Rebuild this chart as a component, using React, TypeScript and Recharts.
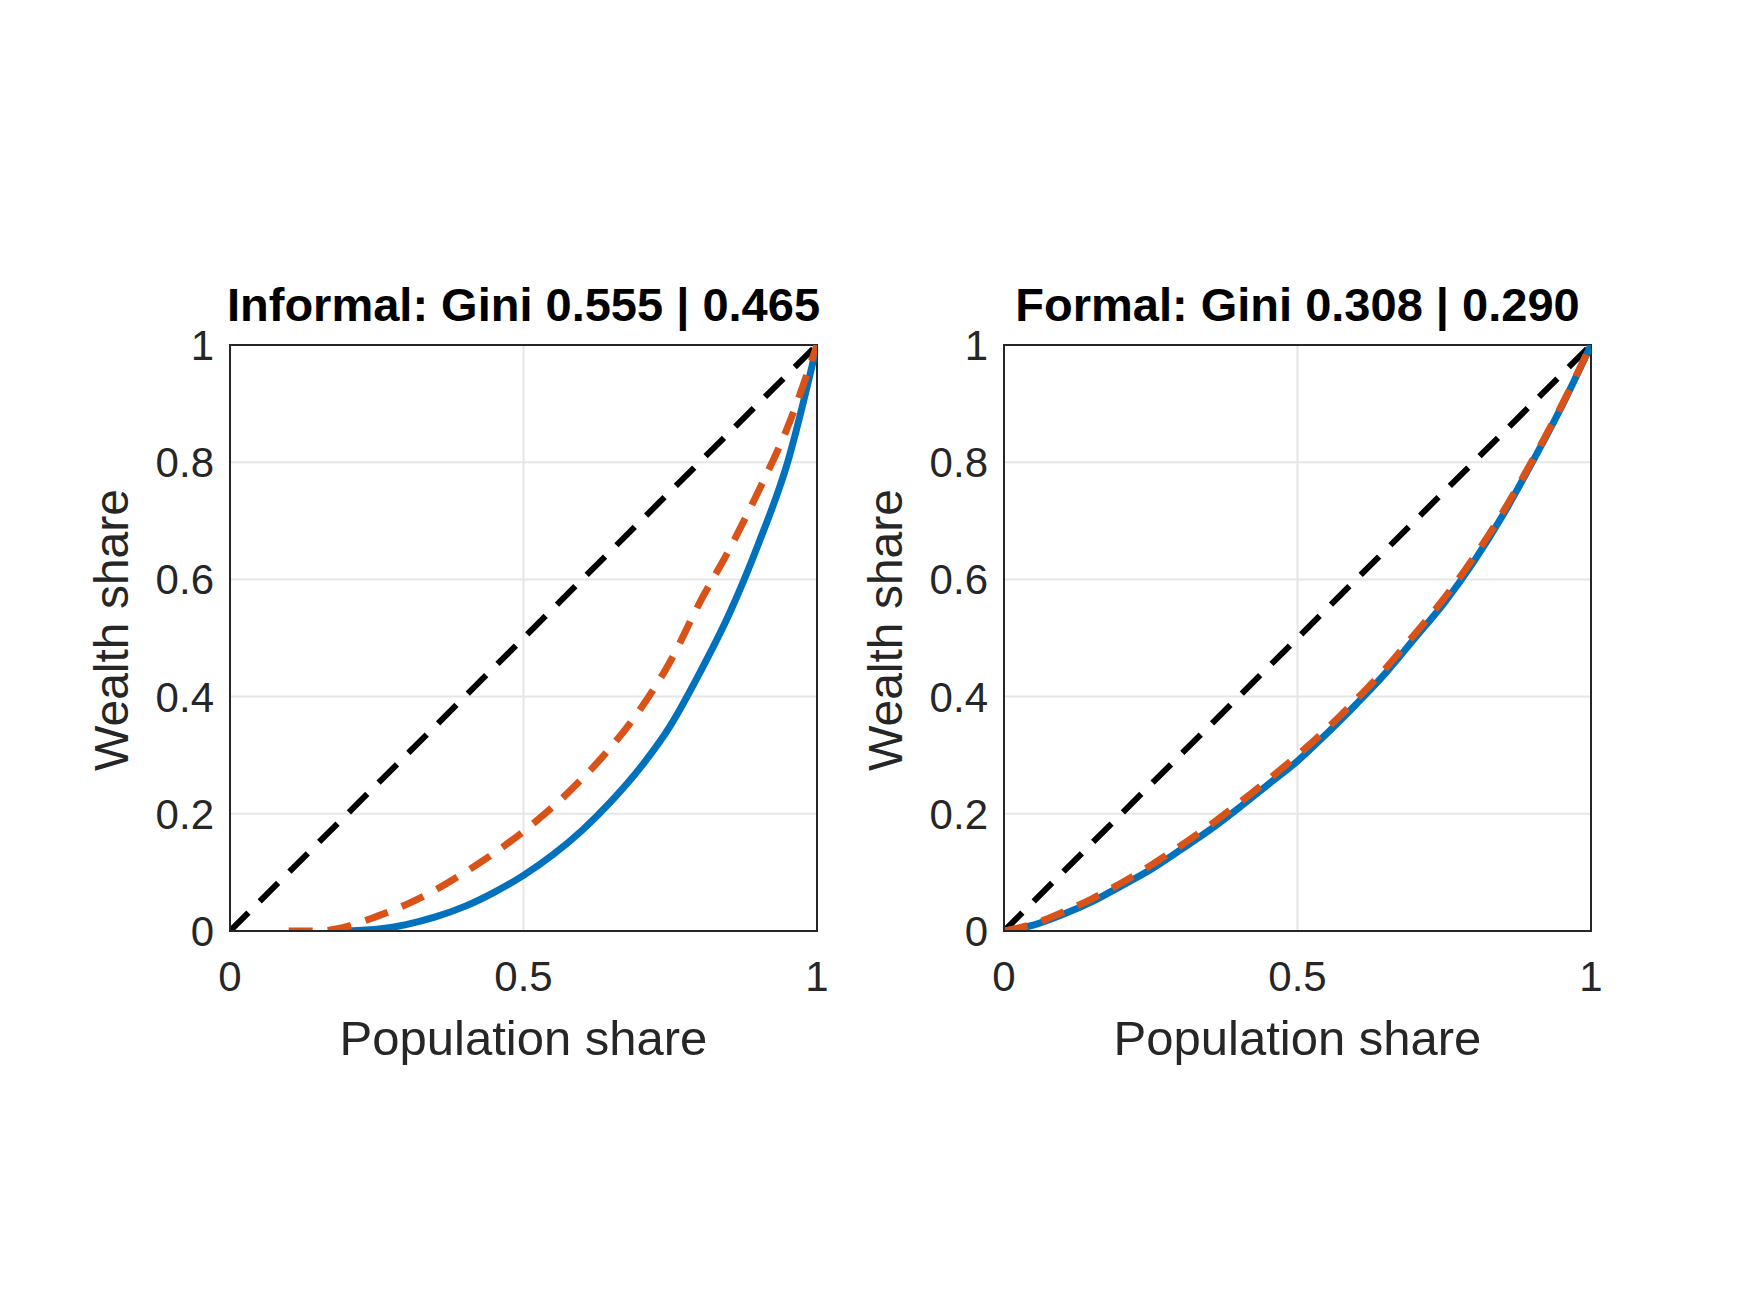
import { LineChart, Line, XAxis, YAxis, CartesianGrid, ReferenceArea } from "recharts";

const equality = [
  { x: 0, y: 0 },
  { x: 1, y: 1 },
];

const informalBlue = [
  { x: 0.19, y: 0 }, { x: 0.25, y: 0.003 }, { x: 0.3, y: 0.011 }, { x: 0.35, y: 0.024 },
  { x: 0.4, y: 0.042 }, { x: 0.45, y: 0.066 }, { x: 0.5, y: 0.095 }, { x: 0.55, y: 0.13 },
  { x: 0.6, y: 0.172 }, { x: 0.65, y: 0.222 }, { x: 0.7, y: 0.28 }, { x: 0.75, y: 0.35 },
  { x: 0.8, y: 0.44 }, { x: 0.85, y: 0.54 }, { x: 0.9, y: 0.66 }, { x: 0.95, y: 0.8 },
  { x: 1, y: 1 },
];

const informalOrange = [
  { x: 0.1, y: 0 }, { x: 0.15, y: 0 }, { x: 0.2, y: 0.008 }, { x: 0.25, y: 0.025 },
  { x: 0.3, y: 0.045 }, { x: 0.35, y: 0.07 }, { x: 0.4, y: 0.1 }, { x: 0.45, y: 0.133 },
  { x: 0.5, y: 0.17 }, { x: 0.55, y: 0.212 }, { x: 0.6, y: 0.26 }, { x: 0.65, y: 0.315 },
  { x: 0.7, y: 0.38 }, { x: 0.75, y: 0.46 }, { x: 0.8, y: 0.56 }, { x: 0.85, y: 0.65 },
  { x: 0.9, y: 0.75 }, { x: 0.95, y: 0.86 }, { x: 1, y: 1 },
];

const formalBlue = [
  { x: 0, y: 0 }, { x: 0.05, y: 0.01 }, { x: 0.1, y: 0.028 }, { x: 0.15, y: 0.05 },
  { x: 0.2, y: 0.077 }, { x: 0.25, y: 0.105 }, { x: 0.3, y: 0.138 }, { x: 0.35, y: 0.172 },
  { x: 0.4, y: 0.21 }, { x: 0.45, y: 0.25 }, { x: 0.5, y: 0.29 }, { x: 0.55, y: 0.337 },
  { x: 0.6, y: 0.387 }, { x: 0.65, y: 0.44 }, { x: 0.7, y: 0.5 }, { x: 0.75, y: 0.56 },
  { x: 0.8, y: 0.63 }, { x: 0.85, y: 0.71 }, { x: 0.9, y: 0.8 }, { x: 0.95, y: 0.895 },
  { x: 1, y: 1 },
];

const formalOrange = [
  { x: 0, y: 0 }, { x: 0.05, y: 0.012 }, { x: 0.1, y: 0.032 }, { x: 0.15, y: 0.055 },
  { x: 0.2, y: 0.082 }, { x: 0.25, y: 0.112 }, { x: 0.3, y: 0.145 }, { x: 0.35, y: 0.18 },
  { x: 0.4, y: 0.218 }, { x: 0.45, y: 0.258 }, { x: 0.5, y: 0.3 }, { x: 0.55, y: 0.345 },
  { x: 0.6, y: 0.395 }, { x: 0.65, y: 0.448 }, { x: 0.7, y: 0.507 }, { x: 0.75, y: 0.568 },
  { x: 0.8, y: 0.637 }, { x: 0.85, y: 0.715 }, { x: 0.9, y: 0.803 }, { x: 0.95, y: 0.897 },
  { x: 1, y: 1 },
];

const xTicks = [0, 0.5, 1];
const yTicks = [0, 0.2, 0.4, 0.6, 0.8, 1];

const font = "Arial, 'Liberation Sans', sans-serif";
const tickStyle = { fontSize: 42, fill: "#262626", fontFamily: font };

const PLOT_W = 587;
const PLOT_H = 586;
const PLOT_TOP = 345;

function Panel({ left, title, blue, orange }: { left: number; title: string; blue: any[]; orange: any[] }) {
  const chartLeft = left - 120;
  return (
    <>
      <div style={{ position: "absolute", left: left - 150, width: PLOT_W + 300, top: 280, textAlign: "center", fontFamily: font, fontWeight: "bold", fontSize: 47, color: "#000", lineHeight: "50px" }}>
        {title}
      </div>
      <div style={{ position: "absolute", left: left - 118 - 200, top: PLOT_TOP + PLOT_H / 2 - 38, width: 400, textAlign: "center", transform: "rotate(-90deg)", fontFamily: font, fontSize: 48, color: "#262626", lineHeight: "60px" }}>
        Wealth share
      </div>
      <div style={{ position: "absolute", left: left - 100, width: PLOT_W + 200, top: 1008, textAlign: "center", fontFamily: font, fontSize: 49, color: "#262626", lineHeight: "60px" }}>
        Population share
      </div>
      <div style={{ position: "absolute", left: chartLeft, top: PLOT_TOP - 45 }}>
        <LineChart width={120 + PLOT_W + 20} height={45 + PLOT_H + 80} margin={{ top: 45, right: 20, bottom: 0, left: 0 }}>
          <CartesianGrid stroke="#e6e6e6" strokeWidth={2} />
          <XAxis type="number" dataKey="x" domain={[0, 1]} ticks={xTicks} tick={tickStyle} tickLine={false} tickSize={0} tickMargin={30} height={80} axisLine={{ stroke: "#262626", strokeWidth: 2 }} allowDataOverflow />
          <YAxis type="number" dataKey="y" domain={[0, 1]} ticks={yTicks} tick={tickStyle} tickLine={false} tickSize={0} tickMargin={16} width={120} axisLine={{ stroke: "#262626", strokeWidth: 2 }} tickFormatter={(v: number) => String(v)} allowDataOverflow />
          <ReferenceArea x1={0} x2={1} y1={0} y2={1} fill="none" stroke="#262626" strokeWidth={2} ifOverflow="visible" />
          <Line data={equality} dataKey="y" stroke="#000" strokeWidth={6} strokeDasharray="26 16" dot={false} isAnimationActive={false} />
          <Line data={blue} dataKey="y" stroke="#0072BD" strokeWidth={7} dot={false} type="monotone" isAnimationActive={false} />
          <Line data={orange} dataKey="y" stroke="#D95319" strokeWidth={7} strokeDasharray="24 15" dot={false} type="monotone" isAnimationActive={false} />
        </LineChart>
      </div>
    </>
  );
}

export default function App() {
  return (
    <div style={{ position: "absolute", left: 0, top: 0, width: 1750, height: 1313, background: "#fff" }}>
      <Panel left={230} title="Informal: Gini 0.555 | 0.465" blue={informalBlue} orange={informalOrange} />
      <Panel left={1004} title="Formal: Gini 0.308 | 0.290" blue={formalBlue} orange={formalOrange} />
    </div>
  );
}
